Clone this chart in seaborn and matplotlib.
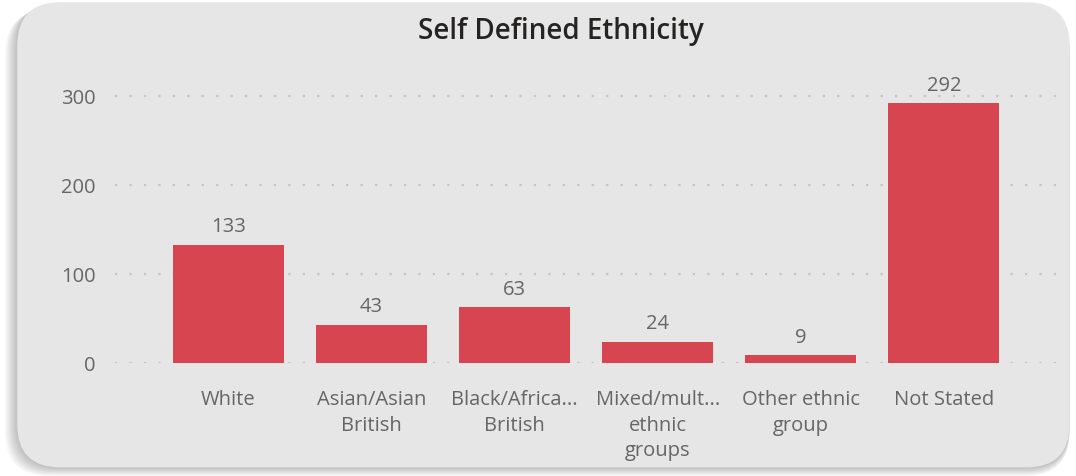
import matplotlib
matplotlib.use("Agg")
import matplotlib.pyplot as plt
from matplotlib.patches import FancyBboxPatch
import pandas as pd
import seaborn as sns

# Chart data
categories = ["White", "Asian/Asian\nBritish", "Black/Africa...\nBritish",
              "Mixed/mult...\nethnic\ngroups", "Other ethnic\ngroup", "Not Stated"]
counts = [133, 43, 63, 24, 9, 292]
y_ticks = [0, 100, 200, 300]

df = pd.DataFrame({"category": categories, "count": counts})

sns.set_style("white")
plt.rcParams["font.family"] = ["Open Sans", "DejaVu Sans"]

bar_color = "#d64550"
text_grey = "#666666"
card_color = "#e6e6e6"

fig = plt.figure(figsize=(10.76, 4.77), dpi=100)
fig.patch.set_facecolor("white")

# Card background with a soft shadow
aspect = 1076 / 477
for k in range(8):
    sh = FancyBboxPatch((0.016 - 0.0016 * k, 0.018 - 0.0025 * k), 0.978 + 0.0016 * k, 0.975,
                        boxstyle="round,pad=0,rounding_size=0.04",
                        transform=fig.transFigure, facecolor="black", alpha=0.035,
                        edgecolor="none", mutation_aspect=aspect, zorder=-3)
    fig.add_artist(sh)
card = FancyBboxPatch((0.016, 0.018), 0.978, 0.975, boxstyle="round,pad=0,rounding_size=0.04",
                      transform=fig.transFigure, facecolor=card_color, edgecolor="none",
                      mutation_aspect=aspect, zorder=-2)
fig.add_artist(card)

ax = fig.add_axes([0.107, 0.237, 0.874, 0.616])
ax.set_zorder(1)
ax.set_facecolor("none")

sns.barplot(data=df, x="category", y="count", color=bar_color, width=0.776,
            saturation=1, linewidth=0, ax=ax, zorder=3)

for i, v in enumerate(counts):
    ax.annotate(str(v), (i, v), xytext=(0, 6), textcoords="offset points",
                ha="center", va="bottom", fontsize=14.5, color=text_grey)

ax.set_xlim(-0.79, 5.78)
ax.set_ylim(0, 330)
ax.set_yticks(y_ticks)
ax.yaxis.grid(True, color="#c4c4c4", linestyle=(0, (1, 5.5)), linewidth=1.6)
ax.set_axisbelow(True)
for s in ax.spines.values():
    s.set_visible(False)

ax.tick_params(axis="both", length=0, labelsize=14.5, labelcolor=text_grey)
ax.tick_params(axis="x", pad=19)
ax.tick_params(axis="y", pad=14)
for lbl in ax.get_xticklabels():
    lbl.set_linespacing(1.37)
    lbl.set_va("top")
ax.set_xlabel("")
ax.set_ylabel("")

fig.text(0.521, 0.934, "Self Defined Ethnicity", ha="center", va="center",
         fontsize=20, fontweight="semibold", color="#252423")

fig.savefig("out.png", dpi=100, facecolor=fig.get_facecolor())
